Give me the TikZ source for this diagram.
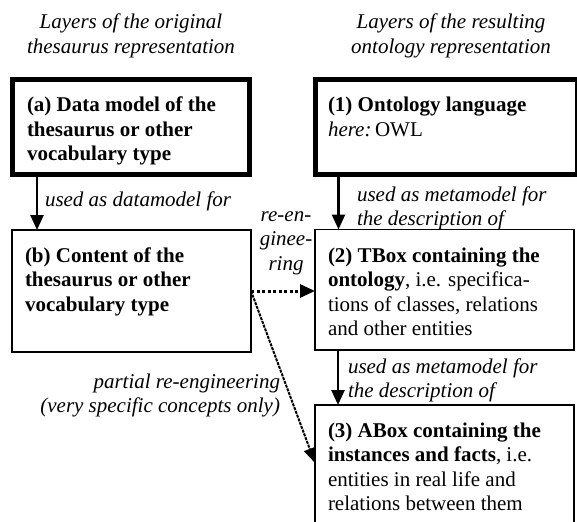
\documentclass[tikz,border=0pt]{standalone}
\usepackage{fontspec}
\setmainfont{Liberation Serif}
\usetikzlibrary{arrows.meta}
% top-aligned paragraph: the node baseline is the first line's baseline
\newcommand{\txtblock}[2]{\parbox[t]{#1}{\raggedright #2}}
\newcommand{\ctrblock}[2]{\parbox[t]{#1}{\centering #2}}
\newcommand{\rgtblock}[2]{\parbox[t]{#1}{\raggedleft #2}}

\begin{document}
\begin{tikzpicture}[x=1pt,y=-1pt,
  every node/.style={font=\fontsize{21}{24.5}\selectfont, inner sep=0pt, outer sep=0pt},
  layerbox/.style={draw, rectangle, line width=1.8pt, anchor=north west},
  langbox/.style={layerbox, line width=5pt},
  flow/.style={line width=2.5pt, -{Triangle[length=15pt,width=13pt]}},
  reeng/.style={flow, line width=3pt, dash pattern=on 3pt off 2.5pt},
  partial/.style={line width=2pt, dash pattern=on 3pt off 1pt,
                  -{Triangle[length=15pt,width=12pt]}},
  boxtext/.style={anchor=base west},
  heading/.style={anchor=base, font=\fontsize{21}{24.5}\selectfont\itshape},
  note/.style={anchor=base west, font=\fontsize{21}{24.5}\selectfont\itshape},
]
\clip (0,0) rectangle (577,521);

% column headings
\node[heading] (lefthead) at (131,29)
  {\ctrblock{300pt}{Layers of the original\\thesaurus representation}};
\node[heading] (righthead) at (451,29)
  {\ctrblock{300pt}{Layers of the resulting\\ontology representation}};

% layer boxes
\node[langbox, minimum width=237pt, minimum height=95pt] (datamodel) at (12.5,79.5) {};
\node[layerbox, minimum width=239pt, minimum height=122pt] (content) at (12,230) {};
\node[langbox, minimum width=262pt, minimum height=95pt] (owl) at (315,80) {};
\node[layerbox, minimum width=259pt, minimum height=120.5pt] (tbox) at (315,229.5) {};
\node[layerbox, minimum width=259pt, minimum height=140pt] (abox) at (315,405) {};

% box texts
\node[boxtext] (datamodeltxt) at (27,112)
  {\txtblock{230pt}{\bfseries (a) Data model of the\\thesaurus or other\\vocabulary type}};
\node[boxtext] (contenttxt) at (25,262)
  {\txtblock{230pt}{\bfseries (b) Content of the\\thesaurus or other\\vocabulary type}};
\node[boxtext] (owltxt) at (328,112)
  {\txtblock{250pt}{\textbf{(1) Ontology language}\\\textit{here:}\,OWL}};
\node[boxtext] (tboxtxt) at (328,262)
  {\txtblock{250pt}{\textbf{(2) TBox containing the}\\\textbf{ontology}, i.e. specifica-\\tions of classes, relations\\and other entities}};
\node[boxtext] (aboxtxt) at (328,437)
  {\txtblock{250pt}{\textbf{(3) ABox containing the}\\\textbf{instances and facts}, i.e.\\entities in real life and\\relations between them}};

% connectors
\draw[flow] ([xshift=24.5pt]datamodel.south west) -- ([xshift=24.5pt]datamodel.south west |- content.north);
\draw[flow] ([xshift=23.5pt]owl.south west) -- ([xshift=23.5pt]owl.south west |- tbox.north);
\draw[flow] ([xshift=23pt]tbox.south west) -- ([xshift=23pt]tbox.south west |- abox.north);
\draw[reeng] (content.east) -- (content.east -| tbox.west);
\draw[partial] (content.east) -- ([yshift=-58pt]abox.north west);

% connector labels
\node[note] (datamodellbl) at (45,206) {used as datamodel for};
\node[note] (metalblA) at (357,201) {\txtblock{230pt}{used as metamodel for\\the description of}};
\node[note] (metalblB) at (348,373) {\txtblock{230pt}{used as metamodel for\\the description of}};
\node[heading] (reenglbl) at (286,221) {\ctrblock{80pt}{re-en-\\ginee-\\ring}};
\node[note, anchor=base east] (partiallbl) at (280,388)
  {\rgtblock{300pt}{partial re-engineering\\(very specific concepts only)}};
\end{tikzpicture}
\end{document}
